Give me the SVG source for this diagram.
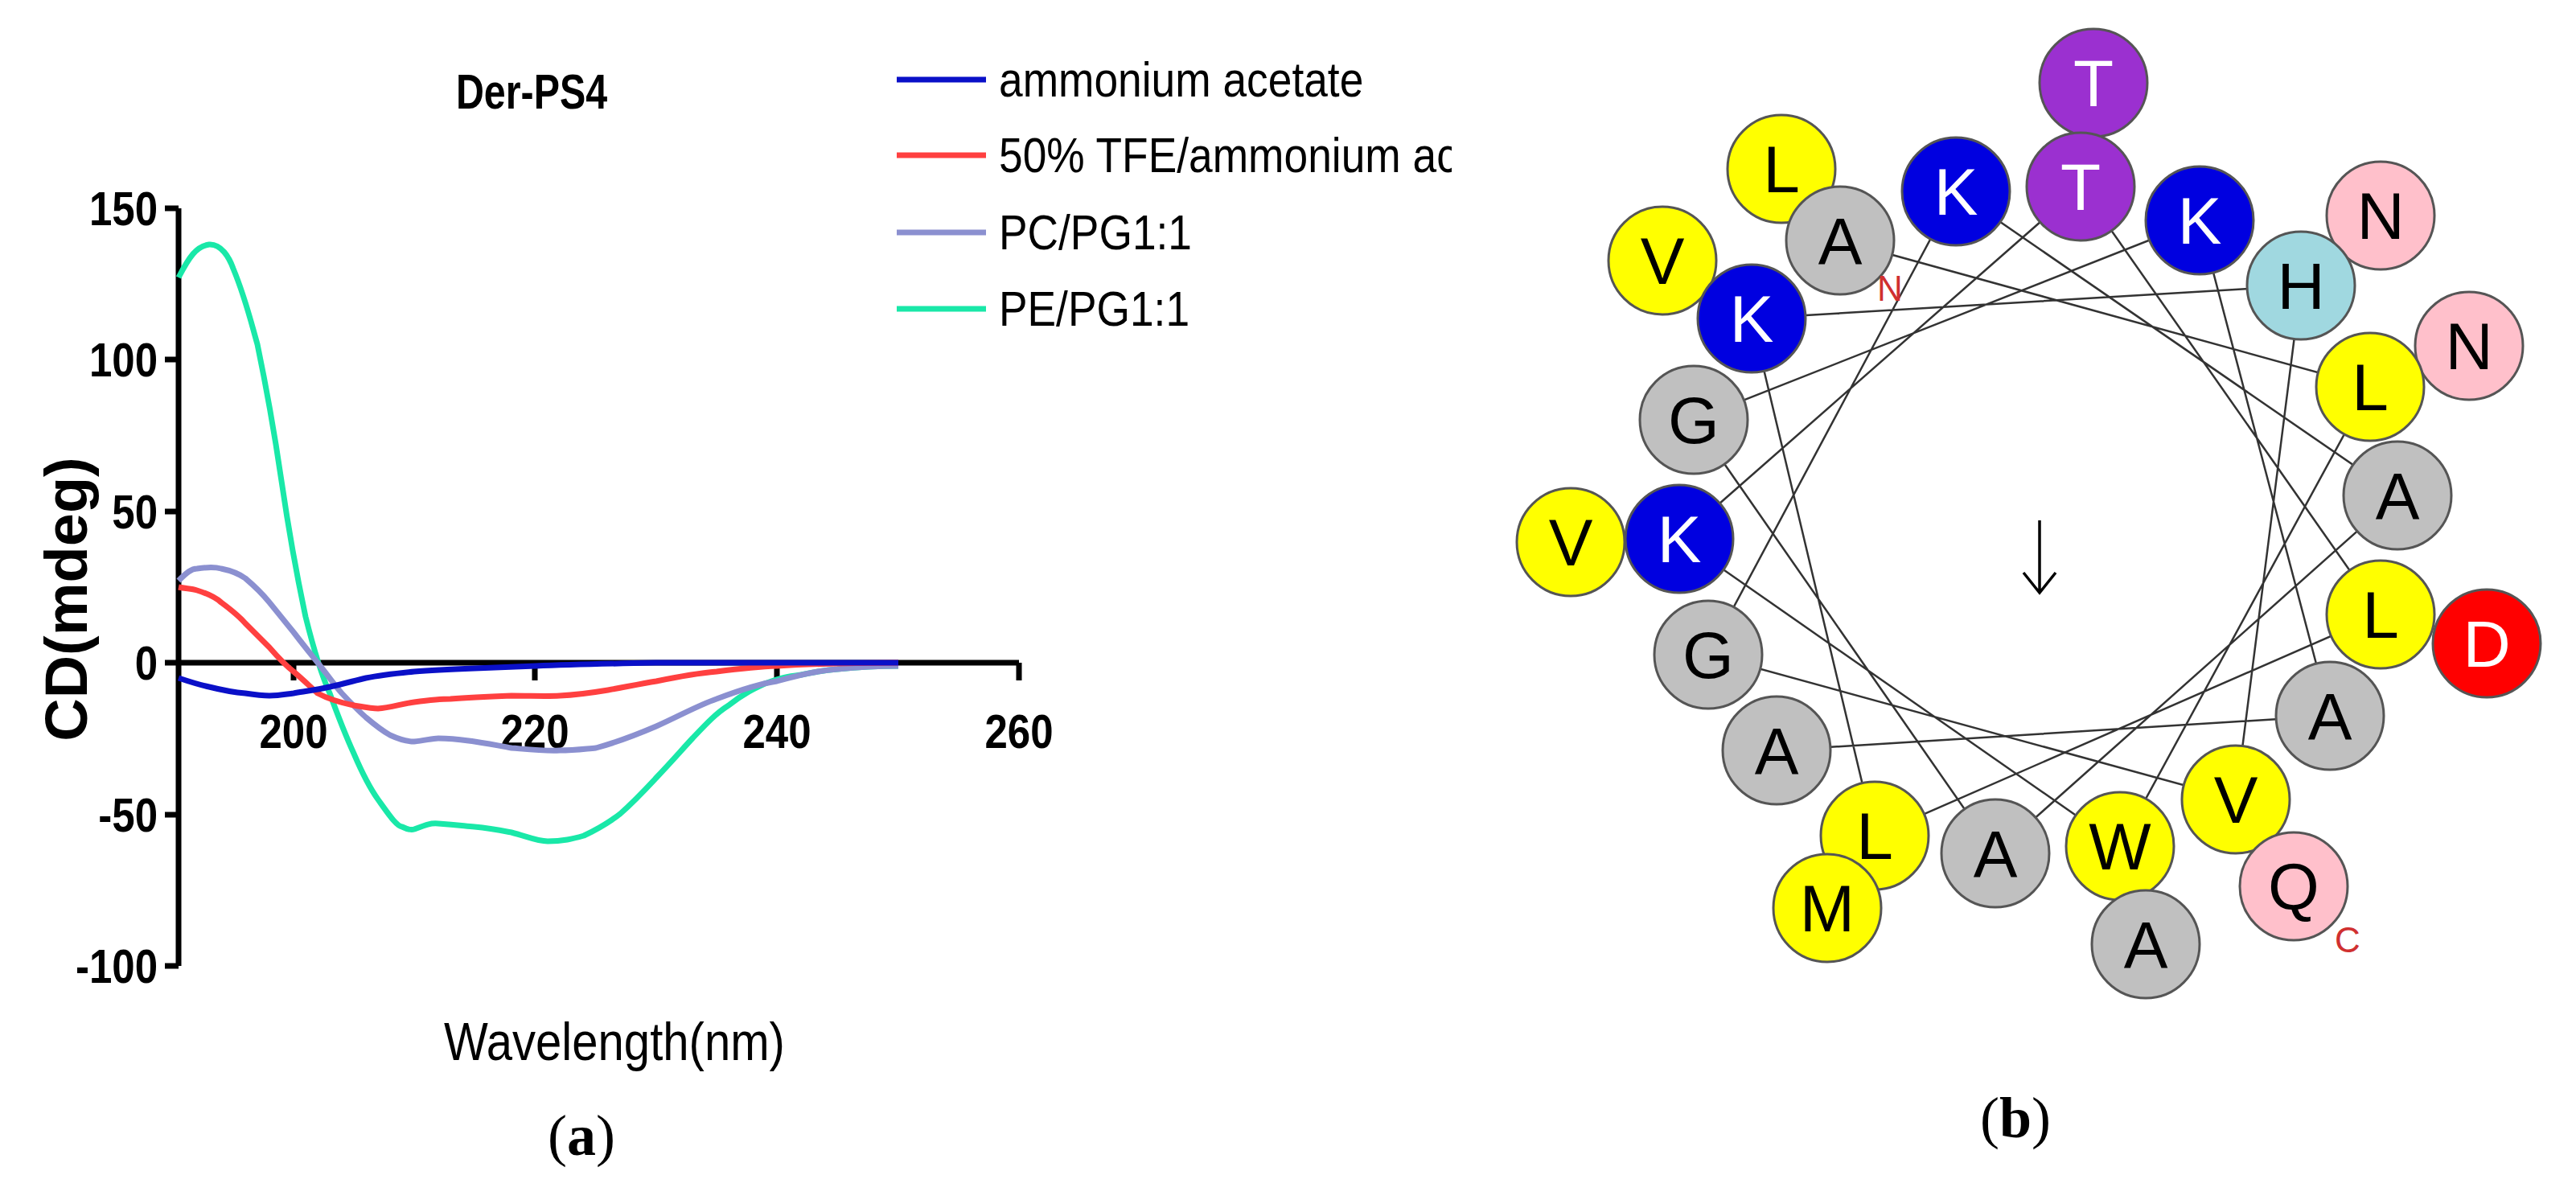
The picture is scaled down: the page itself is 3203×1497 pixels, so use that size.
<svg xmlns="http://www.w3.org/2000/svg" width="3203" height="1497" viewBox="0 0 3203 1497">
<style>
.ax{stroke:#000;stroke-width:7;fill:none}
.tk{font-family:"Liberation Sans",Arial,sans-serif;font-weight:bold;font-size:60px}
.lg{font-family:"Liberation Sans",Arial,sans-serif;font-size:62px}
.cv{fill:none;stroke-width:7;stroke-linejoin:round}
.cap{font-family:"Liberation Serif","Times New Roman",serif;font-size:72px}
.c circle{stroke:#555;stroke-width:3}
.c text{font-family:"Liberation Sans",Arial,sans-serif;font-size:82px;text-anchor:middle;dominant-baseline:central}
.w{fill:#fff}
.hl{stroke:#333;stroke-width:2.5;fill:none}
</style>
<defs><clipPath id="ca"><rect x="0" y="0" width="1805" height="1497"/></clipPath></defs>
<rect width="3203" height="1497" fill="#fff"/>
<g id="panel-a" clip-path="url(#ca)">
<text x="661" y="135" class="tk" style="font-size:62px" text-anchor="middle" transform="translate(661 0) scale(0.78 1) translate(-661 0)">Der-PS4</text>
<path class="ax" d="M222 259V1201M205 259H222M205 447H222M205 636H222M205 824H222M205 1013H222M205 1201H222M222 824H1267M365 824V846M665 824V846M966 824V846M1267 824V846"/>
<g class="tk" text-anchor="end" transform="translate(196 0) scale(0.85 1) translate(-196 0)">
<text x="196" y="280">150</text><text x="196" y="468">100</text><text x="196" y="657">50</text><text x="196" y="845">0</text><text x="196" y="1034">-50</text><text x="196" y="1222">-100</text>
</g>
<g class="tk" text-anchor="middle">
<text x="365" y="930" transform="translate(365 0) scale(0.85 1) translate(-365 0)">200</text><text x="665" y="930" transform="translate(665 0) scale(0.85 1) translate(-665 0)">220</text><text x="966" y="930" transform="translate(966 0) scale(0.85 1) translate(-966 0)">240</text><text x="1267" y="930" transform="translate(1267 0) scale(0.85 1) translate(-1267 0)">260</text>
</g>
<text transform="translate(108 745) rotate(-90)" text-anchor="middle" style="font-family:'Liberation Sans',Arial,sans-serif;font-weight:bold;font-size:74px">CD(mdeg)</text>
<text x="764" y="1318" text-anchor="middle" style="font-family:'Liberation Sans',Arial,sans-serif;font-size:66px" transform="translate(764 0) scale(0.88 1) translate(-764 0)">Wavelength(nm)</text>
<path class="cv" stroke="#19e8a8" d="M222,345 C235,320 244,306 260,304 C275,303 285,320 290,334 C305,370 312,400 320,428 C335,500 343,550 350,598 C362,680 370,720 380,767 C392,815 400,840 410,862 C422,895 430,915 440,937 C452,965 460,980 470,994 C485,1015 493,1027 500,1028 C508,1032 512,1032 515,1031 C528,1026 535,1023 545,1024 C570,1026 578,1027 590,1028 C610,1030 620,1032 636,1035 C655,1040 668,1046 681,1046 C700,1046 712,1043 726,1039 C745,1030 758,1022 771,1012 C790,995 802,982 816,967 C835,947 848,932 861,918 C878,900 890,887 906,877 C925,862 938,856 951,850 C968,843 980,841 996,839 C1015,835 1028,833 1041,832 C1070,829 1090,828 1117,828"/>
<path class="cv" stroke="#8b90d0" d="M222,722 C232,712 238,707 245,707 C258,705 268,705 275,707 C290,710 298,714 305,719 C318,730 326,738 335,749 C348,765 356,775 365,786 C378,803 387,814 395,824 C408,840 416,852 425,862 C438,876 446,884 455,892 C468,903 476,909 485,914 C498,920 507,922 515,922 C528,921 537,918 545,918 C565,918 575,920 590,922 C610,925 620,927 636,930 C660,932 678,934 696,933 C715,933 728,931 741,930 C770,922 795,912 816,903 C845,890 868,877 891,869 C920,858 945,850 966,847 C990,840 1015,834 1041,832 C1070,829 1090,828 1117,828"/>
<path class="cv" stroke="#ff4040" d="M222,730 C232,732 238,732 245,734 C258,738 267,742 275,749 C290,760 298,767 305,775 C318,788 327,797 335,805 C348,820 356,828 365,835 C378,846 387,855 395,862 C410,870 425,874 440,877 C452,879 462,881 470,881 C485,880 500,875 515,873 C530,871 545,869 560,869 C585,867 610,866 636,865 C660,865 680,866 696,865 C718,864 738,861 756,858 C778,854 798,850 816,847 C845,841 868,837 891,835 C915,832 940,829 966,828 C1015,825 1065,824 1117,824"/>
<path class="cv" stroke="#0a10c8" d="M222,843 C240,849 250,852 260,854 C280,859 292,861 305,862 C318,864 327,865 335,865 C348,865 356,863 365,862 C383,859 397,857 410,854 C428,850 442,846 455,843 C475,839 495,837 515,835 C540,833 565,832 590,831 C615,830 640,829 666,828 C715,826 765,825 816,824 L1117,824"/>
<g class="cv"><path stroke="#0a10c8" d="M1115 99H1226"/><path stroke="#ff4040" d="M1115 193H1226"/><path stroke="#8b90d0" d="M1115 289H1226"/><path stroke="#19e8a8" d="M1115 384H1226"/></g>
<g class="lg" transform="translate(1242 0) scale(0.86 1) translate(-1242 0)">
<text x="1242" y="120">ammonium acetate</text>
<text x="1242" y="214">50% TFE/ammonium acetate</text>
<text x="1242" y="310">PC/PG1:1</text>
<text x="1242" y="405">PE/PG1:1</text>
</g>
</g>
<text x="723" y="1436" class="cap" text-anchor="middle">(<tspan font-weight="bold">a</tspan>)</text>
<g id="connectors">
<polyline class="hl" points="2288,299 2947,481 2636,1052 2088,670 2587,232 2960,764 2331,1039 2178,396 2861,355 2780,994 2124,814 2432,238 2981,616 2481,1061 2106,522 2735,274 2897,890 2209,933"/>
<path d="M2536 647V737M2516 712L2536 737L2556 712" stroke="#000" stroke-width="3.5" fill="none"/>
</g>
<g class="c">
<g id="r-T1"><circle cx="2603" cy="103" r="67" fill="#9b30d0"/><text x="2603" y="103" class="w">T</text></g>
<g id="r-T2"><circle cx="2587" cy="232" r="67" fill="#9b30d0"/><text x="2587" y="232" class="w">T</text></g>
<g id="r-K1"><circle cx="2432" cy="238" r="67" fill="#0000e0"/><text x="2432" y="238" class="w">K</text></g>
<g id="r-K2"><circle cx="2735" cy="274" r="67" fill="#0000e0"/><text x="2735" y="274" class="w">K</text></g>
<g id="r-L1"><circle cx="2215" cy="210" r="67" fill="#ffff00"/><text x="2215" y="210">L</text></g>
<g id="r-A1"><circle cx="2288" cy="299" r="67" fill="#c0c0c0"/><text x="2288" y="299">A</text></g>
<g id="r-V1"><circle cx="2067" cy="324" r="67" fill="#ffff00"/><text x="2067" y="324">V</text></g>
<g id="r-K3"><circle cx="2178" cy="396" r="67" fill="#0000e0"/><text x="2178" y="396" class="w">K</text></g>
<g id="r-N1"><circle cx="2960" cy="268" r="67" fill="#ffc0cb"/><text x="2960" y="268">N</text></g>
<g id="r-H"><circle cx="2861" cy="355" r="67" fill="#a0d8e0"/><text x="2861" y="355">H</text></g>
<g id="r-N2"><circle cx="3070" cy="430" r="67" fill="#ffc0cb"/><text x="3070" y="430">N</text></g>
<g id="r-L2"><circle cx="2947" cy="481" r="67" fill="#ffff00"/><text x="2947" y="481">L</text></g>
<g id="r-G1"><circle cx="2106" cy="522" r="67" fill="#c0c0c0"/><text x="2106" y="522">G</text></g>
<g id="r-A2"><circle cx="2981" cy="616" r="67" fill="#c0c0c0"/><text x="2981" y="616">A</text></g>
<g id="r-K4"><circle cx="2088" cy="670" r="67" fill="#0000e0"/><text x="2088" y="670" class="w">K</text></g>
<g id="r-V2"><circle cx="1953" cy="674" r="67" fill="#ffff00"/><text x="1953" y="674">V</text></g>
<g id="r-L3"><circle cx="2960" cy="764" r="67" fill="#ffff00"/><text x="2960" y="764">L</text></g>
<g id="r-D"><circle cx="3092" cy="800" r="67" fill="#ff0000"/><text x="3092" y="800" class="w">D</text></g>
<g id="r-G2"><circle cx="2124" cy="814" r="67" fill="#c0c0c0"/><text x="2124" y="814">G</text></g>
<g id="r-A3"><circle cx="2897" cy="890" r="67" fill="#c0c0c0"/><text x="2897" y="890">A</text></g>
<g id="r-A4"><circle cx="2209" cy="933" r="67" fill="#c0c0c0"/><text x="2209" y="933">A</text></g>
<g id="r-V3"><circle cx="2780" cy="994" r="67" fill="#ffff00"/><text x="2780" y="994">V</text></g>
<g id="r-L4"><circle cx="2331" cy="1039" r="67" fill="#ffff00"/><text x="2331" y="1039">L</text></g>
<g id="r-A5"><circle cx="2481" cy="1061" r="67" fill="#c0c0c0"/><text x="2481" y="1061">A</text></g>
<g id="r-W"><circle cx="2636" cy="1052" r="67" fill="#ffff00"/><text x="2636" y="1052">W</text></g>
<g id="r-Q"><circle cx="2852" cy="1102" r="67" fill="#ffc0cb"/><text x="2852" y="1102">Q</text></g>
<g id="r-M"><circle cx="2272" cy="1129" r="67" fill="#ffff00"/><text x="2272" y="1129">M</text></g>
<g id="r-A6"><circle cx="2668" cy="1174" r="67" fill="#c0c0c0"/><text x="2668" y="1174">A</text></g>
</g>
<text x="2350" y="374" fill="#d03030" style="font-family:'Liberation Sans',Arial,sans-serif;font-size:44px" text-anchor="middle">N</text>
<text x="2919" y="1184" fill="#d03030" style="font-family:'Liberation Sans',Arial,sans-serif;font-size:44px" text-anchor="middle">C</text>
<text x="2506" y="1414" class="cap" text-anchor="middle">(<tspan font-weight="bold">b</tspan>)</text>
</svg>
